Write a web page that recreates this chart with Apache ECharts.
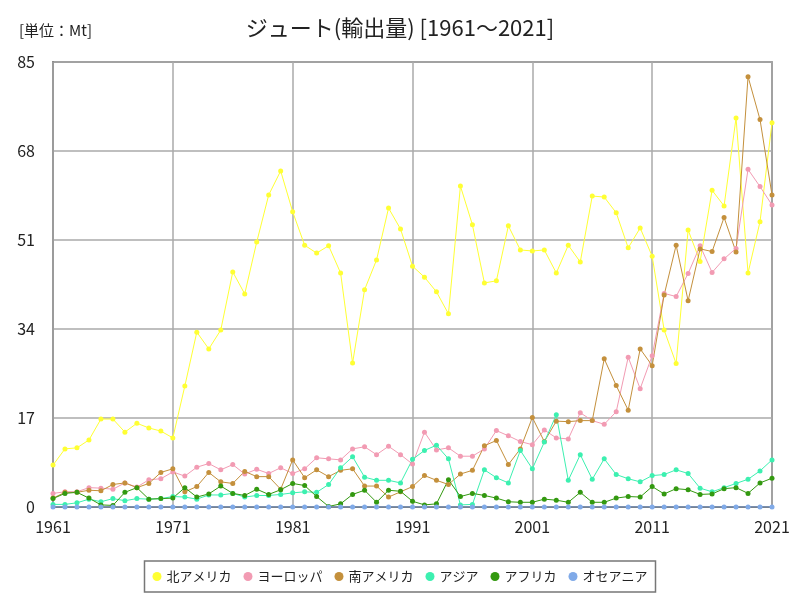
<!DOCTYPE html>
<html><head><meta charset="utf-8">
<script src="https://cdn.jsdelivr.net/npm/echarts@6/dist/echarts.min.js"></script>
<style>html,body{margin:0;padding:0;background:#fff}#c{width:800px;height:600px}</style>
</head><body><div id="c"></div>
<script>
const years = [];
for (let y = 1961; y <= 2021; y++) years.push(String(y));

const northAmerica = [8.0,11.1,11.3,12.8,16.8,16.8,14.3,16.0,15.1,14.5,13.2,23.1,33.4,30.2,33.8,44.9,40.7,50.6,59.6,64.2,56.4,50.0,48.5,49.9,44.7,27.5,41.5,47.2,57.1,53.1,46.0,43.9,41.1,36.9,61.3,53.9,42.8,43.2,53.7,49.1,48.9,49.1,44.7,50.0,46.8,59.4,59.2,56.2,49.5,53.3,47.9,33.8,27.4,52.9,46.9,60.5,57.5,74.3,44.7,54.5,73.4];
const europe = [2.6,2.9,2.9,3.7,3.6,3.4,4.6,3.8,5.2,5.4,6.7,5.9,7.6,8.3,7.1,8.1,6.3,7.2,6.4,7.5,6.4,7.3,9.4,9.2,9.0,11.1,11.5,10.0,11.6,10.0,8.2,14.3,10.9,11.3,9.7,9.7,11.1,14.6,13.6,12.5,11.9,14.7,13.2,13.0,18.0,16.5,15.8,18.2,28.6,22.6,28.9,40.8,40.2,44.6,49.9,44.8,47.4,49.4,64.5,61.2,57.7];
const southAmerica = [1.7,2.8,2.8,3.2,3.1,4.3,4.6,3.7,4.5,6.6,7.3,2.9,3.9,6.6,4.8,4.5,6.8,5.8,5.8,3.4,9.0,5.6,7.1,5.8,7.0,7.3,4.0,4.0,1.9,2.9,3.9,6.0,5.1,4.3,6.3,7.0,11.7,12.7,8.1,11.1,17.1,12.5,16.4,16.3,16.5,16.5,28.3,23.2,18.5,30.2,27.0,40.5,50.0,39.4,49.3,48.8,55.3,48.7,82.2,74.0,59.6];
const asia = [0.5,0.5,0.8,1.5,1.0,1.6,1.2,1.6,1.5,1.6,2.0,1.9,1.5,2.3,2.3,2.6,1.9,2.2,2.2,2.4,2.7,2.9,2.8,4.3,7.5,9.6,5.7,5.1,5.1,4.6,9.1,10.8,11.8,9.2,0.4,0.5,7.1,5.6,4.6,10.8,7.3,12.4,17.6,5.1,10.0,5.3,9.2,6.2,5.4,4.8,6.0,6.2,7.1,6.4,3.6,2.9,3.7,4.5,5.3,6.9,9.0];
const africa = [1.6,2.6,2.8,1.7,0.4,0.3,2.8,3.7,1.5,1.6,1.7,3.7,1.9,2.5,4.0,2.6,2.2,3.4,2.4,3.3,4.5,4.1,2.0,0.1,0.6,2.4,3.2,0.9,3.2,3.0,1.1,0.4,0.6,5.2,2.0,2.6,2.2,1.7,1.0,0.9,0.9,1.5,1.3,0.9,2.8,0.9,0.9,1.7,2.0,1.9,3.9,2.5,3.5,3.3,2.4,2.5,3.5,3.7,2.6,4.6,5.5];
const oceania = [0,0,0,0,0,0,0,0,0,0,0,0,0,0,0,0,0,0,0,0,0,0,0,0,0,0,0,0,0,0,0,0,0,0,0,0,0,0,0,0,0,0,0,0,0,0,0,0,0,0,0,0,0,0,0,0,0,0,0,0,0];
const yTicks = [0,17,34,51,68,85];

const seriesDefs = [
  ['北アメリカ', northAmerica, '#ffff33'],
  ['ヨーロッパ', europe, '#f29bb3'],
  ['南アメリカ', southAmerica, '#c4903c'],
  ['アジア', asia, '#3cf0b0'],
  ['アフリカ', africa, '#339910'],
  ['オセアニア', oceania, '#80aae8']
];

const chart = echarts.init(document.getElementById('c'));
const FONT = '"Noto Sans CJK JP", "Noto Sans", sans-serif';
chart.setOption({
  backgroundColor: '#fff',
  animation: false,
  textStyle: { fontFamily: FONT },
  title: [
    { text: 'ジュート(輸出量) [1961～2021]', left: 'center', top: 12,
      textStyle: { fontSize: 22, fontWeight: 'normal', color: '#222', fontFamily: FONT } },
    { text: '[単位：Mt]', left: 14, top: 18,
      textStyle: { fontSize: 15, fontWeight: 'normal', color: '#222', fontFamily: FONT } }
  ],
  legend: {
    bottom: 8, left: 'center',
    itemWidth: 9, itemHeight: 9, itemGap: 12,
    icon: 'circle',
    borderColor: '#777', borderWidth: 1.5, padding: [9, 8],
    textStyle: { fontSize: 13, color: '#222', fontFamily: FONT }
  },
  grid: { left: 53, right: 28, top: 62, bottom: 93, show: true, borderColor: '#666', borderWidth: 1.5 },
  xAxis: {
    type: 'category', data: years, boundaryGap: false, z: 3,
    axisLine: { lineStyle: { color: '#666', width: 1.5 } },
    axisTick: { show: false },
    axisLabel: { interval: 9, fontSize: 16, color: '#222', margin: 12 },
    splitLine: { show: true, interval: 9, lineStyle: { color: '#aaa', width: 1.5 } }
  },
  yAxis: {
    type: 'value', min: yTicks[0], max: yTicks[yTicks.length - 1], interval: 17,
    axisLine: { show: true, lineStyle: { color: '#666', width: 1.5 } },
    axisTick: { show: false },
    axisLabel: { fontSize: 16, color: '#222', margin: 18 },
    splitLine: { show: true, lineStyle: { color: '#aaa', width: 1.5 } }
  },
  series: seriesDefs.map(([name, data, color]) => ({
    name, type: 'line', data, symbol: 'circle', symbolSize: 5,
    itemStyle: { color }, lineStyle: { color, width: 1 }
  }))
});
</script></body></html>
